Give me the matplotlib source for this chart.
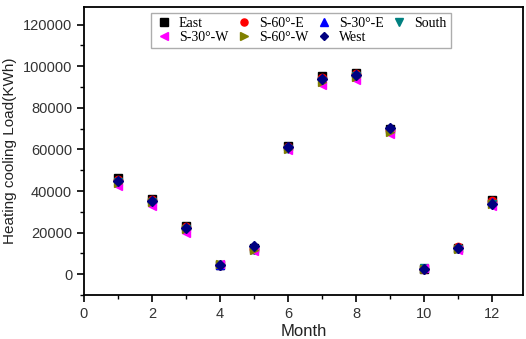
import matplotlib
matplotlib.use('Agg')
from matplotlib import pyplot as plt
from matplotlib.ticker import MultipleLocator

months = [1, 2, 3, 4, 5, 6, 7, 8, 9, 10, 11, 12]

# Нагрузка по ориентациям, кВт*ч
east = [46500, 36000, 23000, 4500, 12500, 61500, 95500, 97000, 70000, 2500, 12800, 35500]
s60e = [45500, 35500, 22500, 4600, 12000, 61000, 94500, 96500, 69500, 2600, 12900, 35000]
s30e = [45000, 35200, 22200, 4500, 12000, 60500, 94000, 96000, 69500, 2800, 12500, 34500]
south = [44500, 34800, 21800, 4600, 11800, 60000, 93000, 95500, 69000, 2900, 12200, 34000]
s30w = [42500, 33000, 20000, 4800, 11000, 59500, 91000, 93500, 67500, 3100, 11800, 33000]
s60w = [44000, 34500, 21500, 5000, 11500, 60000, 92500, 95000, 68500, 2500, 12000, 33800]
west = [45000, 35000, 22000, 4200, 13500, 61000, 94000, 96000, 70500, 2700, 12500, 34000]

series = [
    ('East', east, 's', 'black'),
    ('S-60°-E', s60e, 'o', 'red'),
    ('S-30°-E', s30e, '^', 'blue'),
    ('South', south, 'v', '#008080'),
    ('S-30°-W', s30w, '<', '#ff00ff'),
    ('S-60°-W', s60w, '>', '#808000'),
    ('West', west, 'D', '#000080'),
]


def build_graphics(output_png):
    plt.rcParams['font.family'] = ['Liberation Sans', 'DejaVu Sans']
    fig = plt.figure(figsize=(5.26, 3.39), dpi=100)
    ax = fig.add_axes([84 / 526, 1 - 295 / 339, (523 - 84) / 526, (295 - 7) / 339])

    lines = {}
    for label, values, marker, color in series:
        ms = 5 if marker == 'D' else 6
        ln, = ax.plot(months, values, linestyle='none', marker=marker, color=color,
                      markersize=ms, label=label)
        lines[label] = ln

    ax.set_xlim(0, 12.9)
    ax.set_ylim(-10000, 128500)
    ax.xaxis.set_major_locator(MultipleLocator(2))
    ax.xaxis.set_minor_locator(MultipleLocator(1))
    ax.yaxis.set_major_locator(MultipleLocator(20000))
    ax.yaxis.set_minor_locator(MultipleLocator(10000))
    ax.tick_params(which='major', direction='out', length=5, width=1.2, labelsize=10.5,
                   labelcolor='#333333')
    ax.tick_params(which='minor', direction='out', length=3, width=1)
    for sp in ax.spines.values():
        sp.set_linewidth(1.3)

    ax.set_xlabel('Month', fontsize=12, labelpad=2, color='#222222')
    ax.set_ylabel('Heating cooling Load(KWh)', fontsize=11, labelpad=4, color='#222222')

    # порядок для заполнения легенды по строкам
    order = ['East', 'S-30°-W', 'S-60°-E', 'S-60°-W', 'S-30°-E', 'West', 'South']
    leg = ax.legend([lines[k] for k in order], order,
                    loc='upper center', bbox_to_anchor=(0.494, 1.005), ncol=4,
                    frameon=True, fancybox=False, edgecolor='#999999',
                    prop={'family': 'Liberation Serif', 'size': 10},
                    handletextpad=0.4, columnspacing=0.5, borderpad=0.3,
                    labelspacing=0.1, handlelength=1.3, markerscale=0.85)
    leg.get_frame().set_linewidth(1.0)

    fig.savefig(output_png, dpi=100)


def main():
    build_graphics('out.png')


if __name__ == '__main__':
    main()
